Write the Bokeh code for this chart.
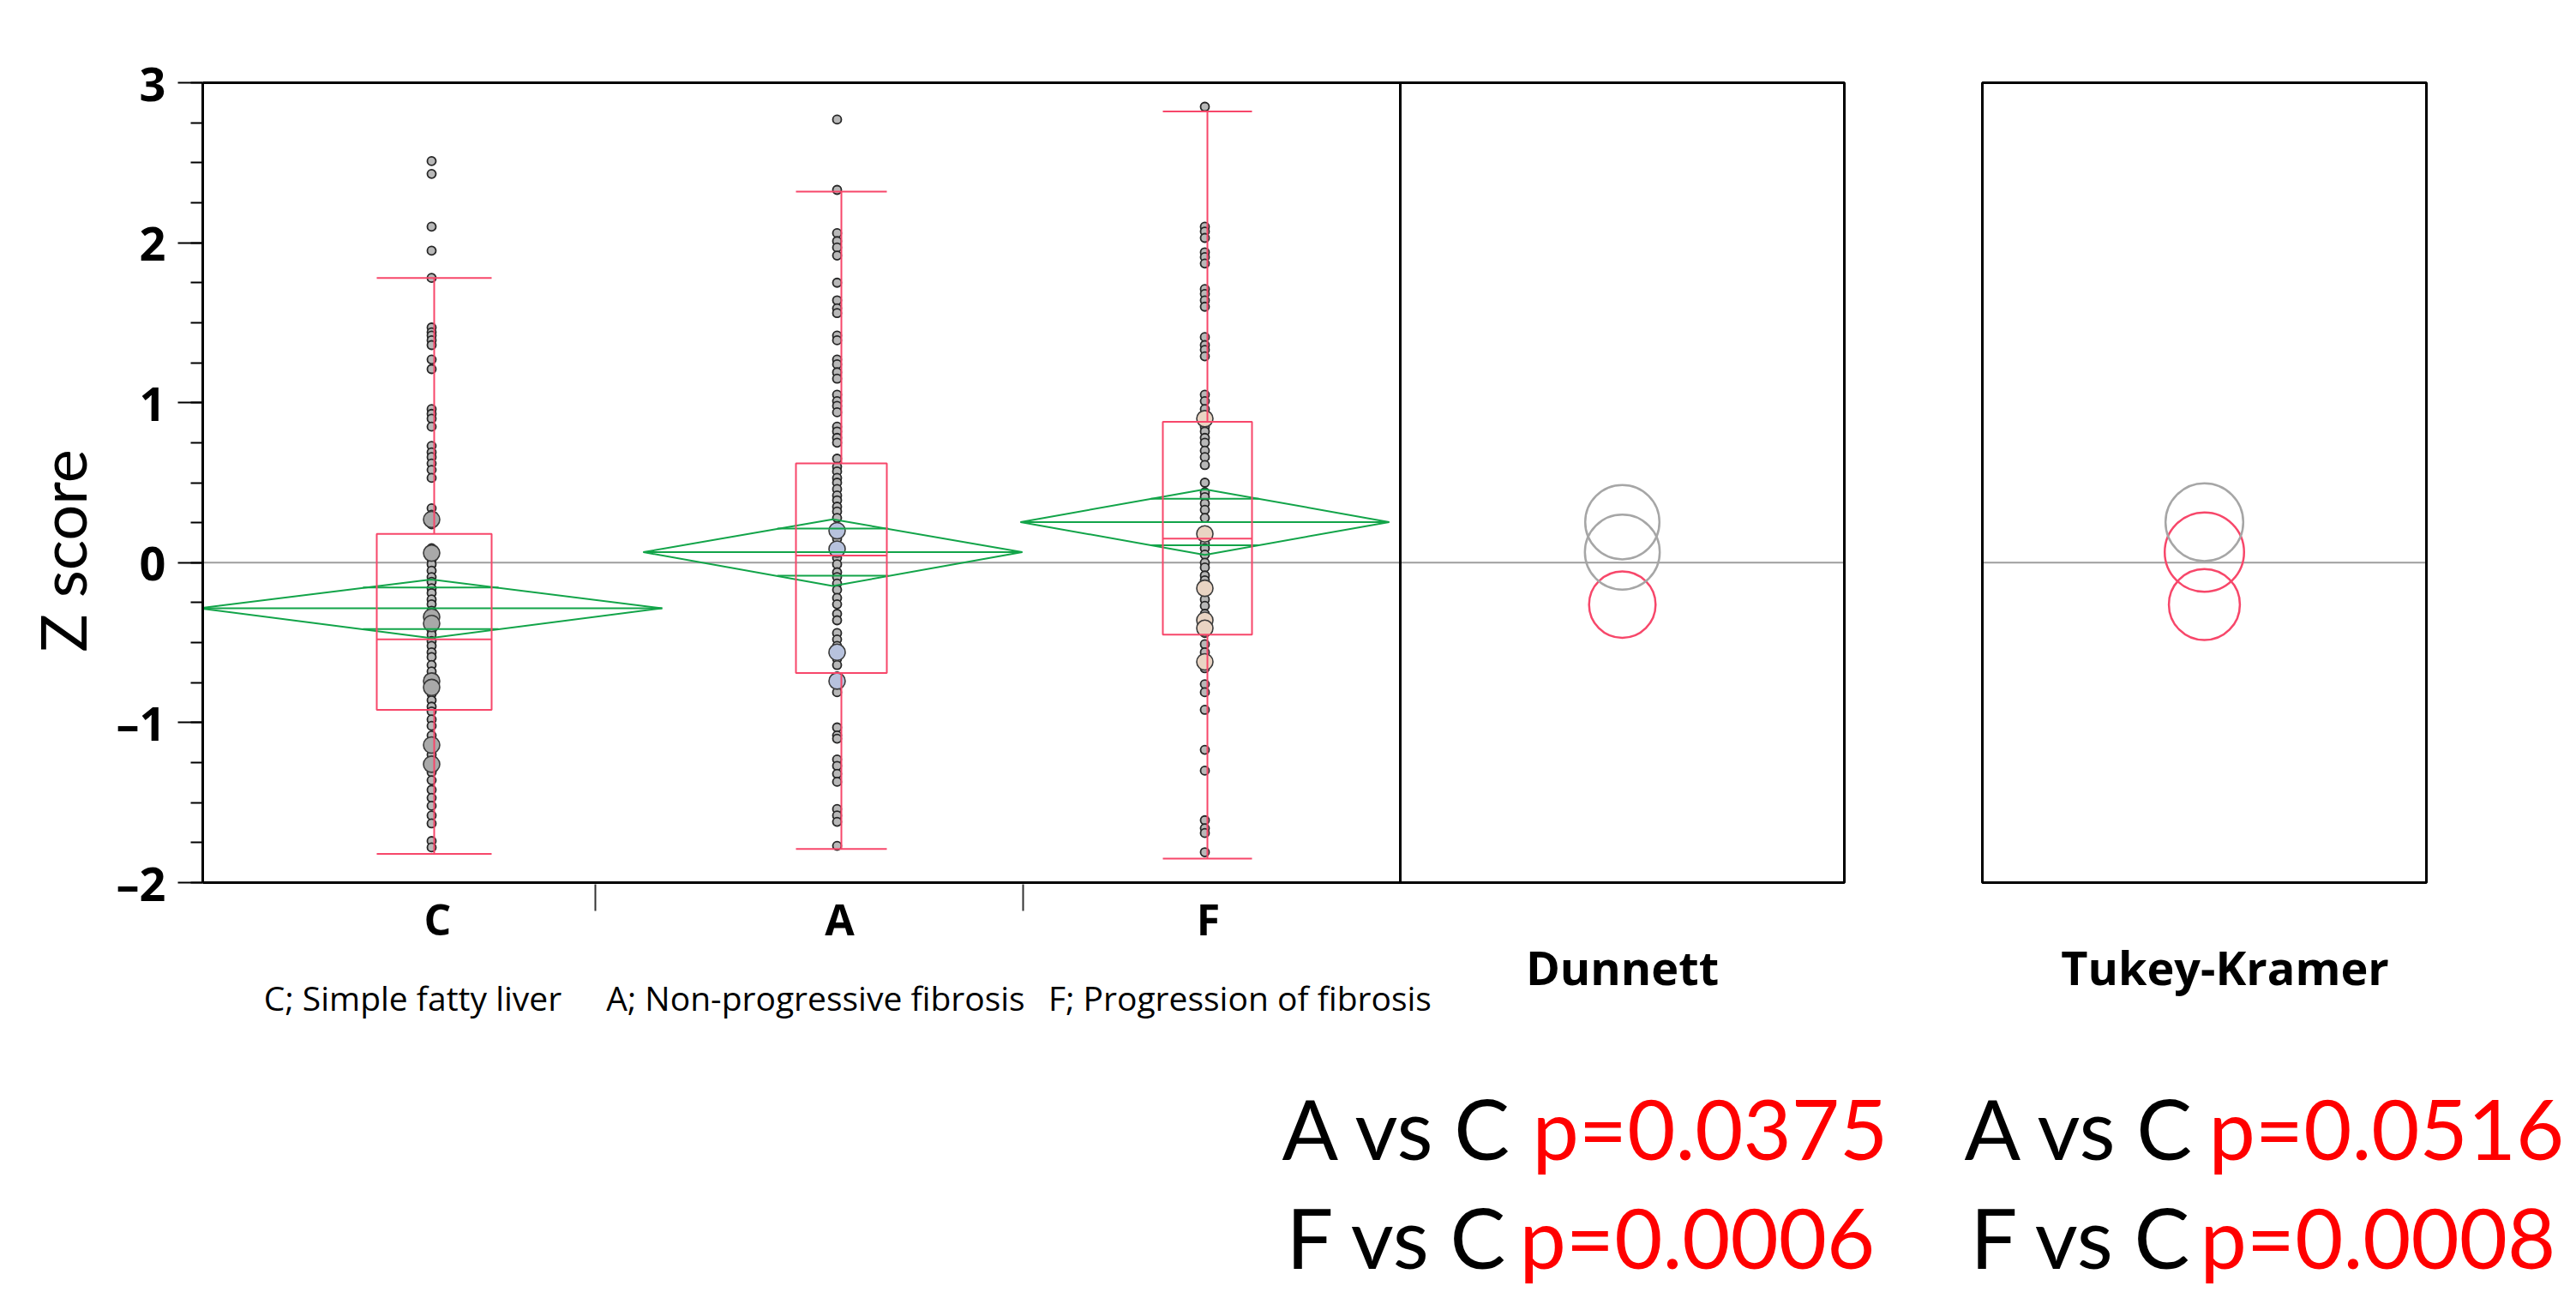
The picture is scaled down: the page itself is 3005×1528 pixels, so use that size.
import math
from bokeh.plotting import figure
from bokeh.layouts import column
from bokeh.models import Range1d, SingleIntervalTicker, CustomJSTickFormatter
from bokeh.core.properties import value
from bokeh.embed import file_html
from bokeh.resources import INLINE

# ---------------- data ----------------
groups = ["C", "A", "F"]
group_descriptions = ["C; Simple fatty liver", "A; Non-progressive fibrosis", "F; Progression of fibrosis"]

# single observations (small markers) and coinciding observations (large markers)
C_single = [2.51, 2.43, 2.10, 1.95, 1.78, 1.47, 1.44, 1.42, 1.39, 1.36, 1.27, 1.21,
            0.96, 0.93, 0.90, 0.85, 0.73, 0.69, 0.66, 0.62, 0.58, 0.53,
            0.34, 0.30, 0.24, 0.09, 0.02, -0.01, -0.05, -0.09, -0.12,
            -0.16, -0.19, -0.23, -0.26, -0.30, -0.42, -0.45, -0.49,
            -0.52, -0.56, -0.59, -0.64, -0.68, -0.82, -0.86, -0.90,
            -0.93, -0.98, -1.02, -1.08, -1.20, -1.31, -1.36, -1.42,
            -1.47, -1.52, -1.58, -1.63, -1.74, -1.78]
C_multi = [0.27, 0.06, -0.34, -0.38, -0.74, -0.78, -1.14, -1.26]

A_single = [2.77, 2.33, 2.06, 2.01, 1.97, 1.92, 1.75, 1.64, 1.59, 1.56, 1.42, 1.39,
            1.27, 1.24, 1.19, 1.15, 1.05, 1.01, 0.98, 0.94, 0.85, 0.82, 0.78, 0.75,
            0.65, 0.60, 0.57, 0.53, 0.50, 0.46, 0.42, 0.39, 0.35, 0.32, 0.28, 0.15,
            0.03, -0.01, -0.06, -0.09, -0.13, -0.17, -0.22, -0.26, -0.32, -0.36,
            -0.44, -0.48, -0.52, -0.60, -0.64, -0.71, -0.77, -0.81, -1.03, -1.08,
            -1.10, -1.23, -1.27, -1.32, -1.37, -1.54, -1.58, -1.62, -1.77]
A_multi = [0.20, 0.085, -0.56, -0.74]

F_single = [2.85, 2.10, 2.07, 2.03, 1.94, 1.91, 1.87, 1.71, 1.68, 1.64, 1.60, 1.41,
            1.36, 1.33, 1.29, 1.05, 1.01, 0.96, 0.85, 0.82, 0.78, 0.75, 0.70, 0.66,
            0.61, 0.50, 0.44, 0.41, 0.37, 0.33, 0.28, 0.17, 0.12, 0.09, 0.05, 0.00,
            -0.03, -0.08, -0.11, -0.23, -0.27, -0.32, -0.44, -0.51, -0.56, -0.66,
            -0.76, -0.81, -0.92, -1.17, -1.30, -1.61, -1.66, -1.69, -1.81]
F_multi = [0.90, 0.18, -0.16, -0.36, -0.41, -0.62]

# box plot statistics (C, A, F)
whisker_low = [-1.82, -1.79, -1.85]
quartile_1 = [-0.92, -0.69, -0.45]
medians = [-0.48, 0.045, 0.15]
quartile_3 = [0.18, 0.62, 0.88]
whisker_high = [1.78, 2.32, 2.82]

# means diamonds (mean and 95% CI)
means = [-0.285, 0.066, 0.254]
ci_low = [-0.471, -0.146, 0.049]
ci_high = [-0.105, 0.271, 0.459]

# comparison circles
circle_centers = [-0.262, 0.066, 0.253]
dunnett_radius = [0.208, 0.234, 0.232]
dunnett_significant = [False, True, True]
tukey_radius = [0.222, 0.248, 0.243]
tukey_significant = [False, False, True]

y_ticks_interval = 1
y_axis_title = "Z score"
panel_titles = ["Dunnett", "Tukey-Kramer"]
comparisons = ["A vs C ", "F vs C "]
dunnett_p = ["p=0.0375", "p=0.0006"]
tukey_p = ["p=0.0516", "p=0.0008"]

# ---------------- layout (screen pixels) ----------------
FIG_W, FIG_H = 3000, 1524
TOP_H = 1200                      # height of the upper figure
FRAME_TOP = 84                    # upper frame spans 84..1200 -> y-title centred at 642
Z_MIN, Z_MAX = -2, 3
PX_ZMAX, PX_ZMIN = 96, 1029
ppu = (PX_ZMIN - PX_ZMAX) / (Z_MAX - Z_MIN)
y_end = Z_MAX + (PX_ZMAX - FRAME_TOP) / ppu
y_start = y_end - (TOP_H - FRAME_TOP) / ppu

PLOT_LEFT = 236
MAIN_RIGHT = 1633
DUN_RIGHT = 2151
TUK_LEFT, TUK_RIGHT = 2312, 2830
DUN_X, TUK_X = 1892, 2571

point_x = [503, 976, 1405]
box_x = [506, 981, 1408]
box_hw = [67, 53, 52]
diamond_x = [502, 971, 1405]
diamond_hw = [270, 221, 215]
divider_x = [694, 1193]
cat_label_x = [510, 979, 1409]
desc_x = [481, 951, 1446]

RED = "#F7476A"
GREEN = "#12A449"
GREY_C = "#A6A6A6"
ZERO = "#9E9E9E"
big_fill = ["#A9A9A9", "#B7C2DD", "#E9D4C3"]

p = figure(width=FIG_W, height=TOP_H, output_backend="svg", toolbar_location=None,
           x_range=Range1d(PLOT_LEFT, FIG_W), y_range=Range1d(y_start, y_end),
           x_axis_location=None, min_border_left=PLOT_LEFT, min_border_right=0,
           min_border_top=FRAME_TOP, min_border_bottom=0)
p.extra_y_ranges = {"px": Range1d(start=TOP_H, end=FRAME_TOP)}
p.grid.visible = False
p.outline_line_color = None
p.background_fill_color = "white"
p.border_fill_color = "white"

# y axis
ax = p.yaxis[0]
ax.ticker = SingleIntervalTicker(interval=y_ticks_interval, num_minor_ticks=4)
ax.bounds = (Z_MIN, Z_MAX)
ax.formatter = CustomJSTickFormatter(code="return tick < 0 ? '\\u2013' + (-tick) : '' + tick;")
ax.axis_line_width = 3
ax.axis_line_color = "black"
ax.major_tick_out = 29
ax.major_tick_in = 0
ax.major_tick_line_width = 2
ax.minor_tick_out = 14
ax.minor_tick_in = 0
ax.minor_tick_line_width = 2
ax.major_label_standoff = 14
ax.major_label_text_font = "Open Sans"
ax.major_label_text_font_style = "bold"
ax.major_label_text_font_size = "54px"
ax.major_label_text_color = "black"
ax.axis_label = y_axis_title
ax.axis_label_text_font = "Lato"
ax.axis_label_text_font_style = "normal"
ax.axis_label_text_font_size = "74px"
ax.axis_label_text_color = "black"
ax.axis_label_standoff = 16

# zero reference line
p.segment(x0=[PLOT_LEFT, TUK_LEFT], x1=[DUN_RIGHT, TUK_RIGHT], y0=[0, 0], y1=[0, 0],
          line_color=ZERO, line_width=2)

# points
singles = [C_single, A_single, F_single]
multis = [C_multi, A_multi, F_multi]
for i in range(3):
    p.scatter([point_x[i]] * len(singles[i]), singles[i], marker="circle", size=10,
              fill_color="#B8B8B8", line_color="#262626", line_width=1.8)
    p.scatter([point_x[i]] * len(multis[i]), multis[i], marker="circle", size=19,
              fill_color=big_fill[i], line_color="#3A3A3A", line_width=1.6)

# means diamonds
dxs, dys = [], []
for i in range(3):
    cx, hw = diamond_x[i], diamond_hw[i]
    dxs.append([cx - hw, cx, cx + hw, cx])
    dys.append([means[i], ci_high[i], means[i], ci_low[i]])
p.patches(dxs, dys, fill_color=None, line_color=GREEN, line_width=2)
sx0, sx1, sy = [], [], []
for i in range(3):
    cx, hw = diamond_x[i], diamond_hw[i]
    sx0.append(cx - hw); sx1.append(cx + hw); sy.append(means[i])
    d = (ci_high[i] - ci_low[i]) / 2 / math.sqrt(2)
    w = hw * (1 - 1 / math.sqrt(2))
    for yy in (means[i] + d, means[i] - d):
        sx0.append(cx - w); sx1.append(cx + w); sy.append(yy)
p.segment(x0=sx0, x1=sx1, y0=sy, y1=sy, line_color=GREEN, line_width=2)

# box plots
bl = [box_x[i] - box_hw[i] for i in range(3)]
br = [box_x[i] + box_hw[i] for i in range(3)]
p.quad(left=bl, right=br, top=quartile_3, bottom=quartile_1, fill_color=None,
       line_color=RED, line_width=2)
p.segment(x0=bl, x1=br, y0=medians, y1=medians, line_color=RED, line_width=2)
p.segment(x0=box_x, x1=box_x, y0=quartile_3, y1=whisker_high, line_color=RED, line_width=2)
p.segment(x0=box_x, x1=box_x, y0=quartile_1, y1=whisker_low, line_color=RED, line_width=2)
p.segment(x0=bl, x1=br, y0=whisker_high, y1=whisker_high, line_color=RED, line_width=2)
p.segment(x0=bl, x1=br, y0=whisker_low, y1=whisker_low, line_color=RED, line_width=2)

# panel frames
p.quad(left=[PLOT_LEFT, MAIN_RIGHT, TUK_LEFT], right=[MAIN_RIGHT, DUN_RIGHT, TUK_RIGHT],
       top=[Z_MAX] * 3, bottom=[Z_MIN] * 3, fill_color=None, line_color="black", line_width=3)

# comparison circles
p.circle(x=[DUN_X] * 3, y=circle_centers, radius=dunnett_radius, radius_dimension="y",
         fill_color=None, line_width=2.5,
         line_color=[GREY_C if s else RED for s in dunnett_significant])
p.circle(x=[TUK_X] * 3, y=circle_centers, radius=tukey_radius, radius_dimension="y",
         fill_color=None, line_width=2.5,
         line_color=[GREY_C if s else RED for s in tukey_significant])

# category dividers below the axis
p.segment(x0=divider_x, x1=divider_x, y0=[1031, 1031], y1=[1062, 1062], y_range_name="px",
          line_color="#333333", line_width=2)

# category labels
p.text(x=cat_label_x, y=[1071] * 3, text=groups, y_range_name="px",
       text_font=value("Open Sans"), text_font_style="bold", text_font_size="50px",
       text_align="center", text_baseline="middle", text_color="black")
p.text(x=desc_x, y=[1163] * 3, text=group_descriptions, y_range_name="px",
       text_font=value("Open Sans"), text_font_size="39px",
       text_align="center", text_baseline="middle", text_color="black")
p.text(x=[DUN_X, 2595], y=[1127, 1127], text=panel_titles, y_range_name="px",
       text_font=value("Open Sans"), text_font_style="bold", text_font_size="54px",
       text_align="center", text_baseline="middle", text_color="black")

# lower figure: p-values (its frame is aligned with the upper frame by the column layout)
q = figure(width=FIG_W, height=FIG_H - TOP_H, output_backend="svg", toolbar_location=None,
           x_range=Range1d(PLOT_LEFT, FIG_W), y_range=Range1d(FIG_H, TOP_H),
           x_axis_location=None, y_axis_location=None, min_border=0,
           min_border_left=PLOT_LEFT)
q.grid.visible = False
q.outline_line_color = None
q.background_fill_color = "white"
q.border_fill_color = "white"
q.text(x=[1495, 1500, 2291, 2298], y=[1315, 1442, 1315, 1442],
       text=comparisons + comparisons,
       text_font=value("Lato"), text_font_size="97px",
       text_align="left", text_baseline="alphabetic", text_color="black")
q.text(x=[1787, 1772, 2576, 2566], y=[1315, 1442, 1315, 1442],
       text=dunnett_p + tukey_p,
       text_font=value("Lato"), text_font_size="97px",
       text_align="left", text_baseline="alphabetic", text_color="#FF0000")

layout = column(p, q, spacing=0)
open("out.html", "w").write(file_html(layout, INLINE))
